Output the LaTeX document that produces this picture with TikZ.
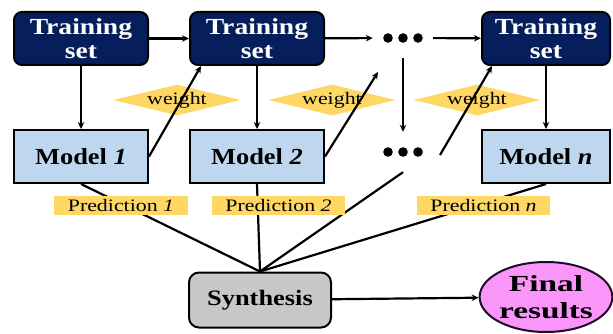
\documentclass[tikz,border=0pt]{standalone}
\usepackage{fontspec}
\setmainfont{Liberation Serif}
\usetikzlibrary{arrows.meta,shapes.geometric,calc}
\definecolor{navy}{RGB}{6,30,92}
\definecolor{lblue}{RGB}{190,215,238}
\definecolor{pyellow}{RGB}{255,215,100}
\definecolor{sgray}{RGB}{200,200,200}
\definecolor{pink}{RGB}{250,150,250}
\definecolor{eborder}{RGB}{30,10,40}
\newcommand{\xw}[1]{\scalebox{1.2}[1]{#1}}
\newcommand{\xm}[1]{\scalebox{1.15}[1]{#1}}
\newcommand{\xp}[1]{\scalebox{1.25}[1]{#1}}
\newcommand{\xf}[1]{\scalebox{1.45}[1]{#1}}
\begin{document}
\begin{tikzpicture}[x=1pt,y=-1pt,
  tsbox/.style={draw=black, line width=2pt, fill=navy, rounded corners=8pt,
    minimum width=134pt, minimum height=53pt, text=white, inner sep=0pt,
    font=\fontsize{23}{24}\selectfont\bfseries, align=center},
  modelbox/.style={draw=black, line width=2pt, fill=lblue,
    minimum width=134pt, minimum height=53pt, inner sep=0pt,
    font=\fontsize{23}{24}\selectfont\bfseries},
  wdiam/.style={diamond, fill=pyellow, minimum width=127pt, minimum height=30pt,
    inner sep=0pt, shape aspect=4, font=\fontsize{17.5}{18}\selectfont},
  predlabel/.style={fill=pyellow, minimum width=134pt, minimum height=19pt,
    inner sep=0pt, font=\fontsize{17.5}{18}\selectfont},
  dotsnode/.style={minimum width=60pt, minimum height=40pt, inner sep=0pt},
  conn/.style={line width=2.2pt, black},
  arr/.style={conn, -{Stealth[length=7pt,width=6.5pt]}},
]
\useasboundingbox (0,0) rectangle (613,334);

% top row
\node[tsbox] (ts1) at (81,38.5) {\xw{Training}\\\xw{set}};
\node[tsbox] (ts2) at (257,38.5) {\xw{Training}\\\xw{set}};
\node[tsbox, minimum width=128pt] (tsn) at (546,38.5) {\xw{Training}\\\xw{set}};
\node[dotsnode] (d1) at (403,38) {};
\node[dotsnode] (d2) at (403,152) {};
\foreach \dx in {-15,0,15} {
  \fill ($(d1.center)+(\dx,0)$) circle[radius=4.8pt];
  \fill ($(d2.center)+(\dx,0)$) circle[radius=4.8pt];
}

% models
\node[modelbox] (m1) at (81,156.5) {\xm{Model \textit{1}}};
\node[modelbox] (m2) at (257,156.5) {\xm{Model \textit{2}}};
\node[modelbox, minimum width=128pt] (mn) at (546,156.5) {\xm{Model \textit{n}}};

% synthesis and final
\node[draw=black, line width=2pt, fill=sgray, rounded corners=10pt,
  minimum width=142pt, minimum height=55pt, inner sep=0pt,
  font=\fontsize{22}{24}\selectfont\bfseries] (syn) at (260,300) {\xw{Synthesis}};
\node[ellipse, draw=eborder, line width=2pt, fill=pink,
  minimum width=122pt, minimum height=70pt, inner sep=0pt, align=center,
  font=\fontsize{23}{27}\selectfont\bfseries] (fin) at (546,297) {\xf{Final}\\\xf{results}};

% prediction lines (behind labels)
\draw[conn] (m1.south) -- (syn.north);
\draw[conn] (m2.south) -- (syn.north);
\draw[conn] (d2.south) -- (syn.north);
\draw[conn] (mn.south) -- (syn.north);
\node[predlabel] (p1) at (121,205.5) {\xp{Prediction \textit{1}}};
\node[predlabel, minimum width=133pt] (p2) at (278.5,205.5) {\xp{Prediction \textit{2}}};
\node[predlabel, minimum width=133pt] (pn) at (483.5,205.5) {\xp{Prediction \textit{n}}};

% weights
\node[wdiam] (w1) at (177,100) {\xp{weight}};
\node[wdiam] (w2) at (332,100) {\xp{weight}};
\node[wdiam] (w3) at (477,100) {\xp{weight}};

% arrows
\draw[arr] (ts1) -- (ts2);
\draw[arr] (ts2) -- (d1);
\draw[arr] (d1) -- (tsn);
\draw[arr] (d1.south) -- (d2.north);
\draw[arr] (ts1) -- (m1);
\draw[arr] (ts2) -- (m2);
\draw[arr] (tsn) -- (mn);
\draw[arr] (m1.east) -- ($(ts2.south west)+(12,0)$);
\coordinate (w2end) at (378,72);
\draw[arr] (m2.east) -- (w2end);
\coordinate (w3start) at (440,155);
\draw[arr] (w3start) -- ($(tsn.south west)+(11,0)$);
\draw[arr] (syn) -- (fin);
\end{tikzpicture}
\end{document}
